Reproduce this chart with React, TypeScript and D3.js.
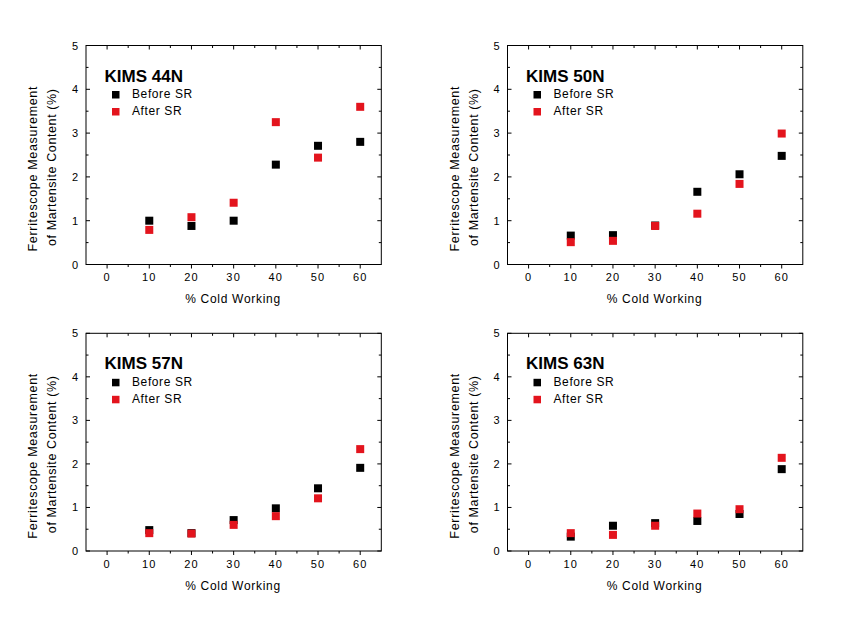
import React from "react";
import * as d3 from "d3";

const coldWorking = [10, 20, 30, 40, 50, 60];
const titles = ["KIMS 44N", "KIMS 50N", "KIMS 57N", "KIMS 63N"];
const before44 = [1.0, 0.88, 1.0, 2.28, 2.71, 2.8];
const after44 = [0.79, 1.08, 1.41, 3.25, 2.44, 3.6];
const before50 = [0.66, 0.67, 0.89, 1.66, 2.06, 2.48];
const after50 = [0.51, 0.54, 0.88, 1.16, 1.84, 2.99];
const before57 = [0.48, 0.41, 0.71, 0.98, 1.44, 1.91];
const after57 = [0.41, 0.4, 0.6, 0.8, 1.21, 2.34];
const before63 = [0.33, 0.58, 0.64, 0.69, 0.85, 1.88];
const after63 = [0.41, 0.37, 0.58, 0.86, 0.96, 2.14];
const xMajorTicks = [0, 10, 20, 30, 40, 50, 60];
const yMajorTicks = [0, 1, 2, 3, 4, 5];
const legendLabels = ["Before SR", "After SR"];
const seriesColors = ["#000000", "#e3141d"];

const beforeSets = [before44, before50, before57, before63];
const afterSets = [after44, after50, after57, after63];

const FONT = "'Liberation Sans', Arial, Helvetica, sans-serif";

const layout = [
  { left: 86, top: 45.5, bottom: 264.5 },
  { left: 507.5, top: 45.5, bottom: 264.5 },
  { left: 86, top: 333.3, bottom: 551 },
  { left: 507.5, top: 333.3, bottom: 551 },
];
const PW = 295.3;

function Panel({ idx }: { idx: number }) {
  const L = layout[idx];
  const x = d3.scaleLinear().domain([-5, 65]).range([L.left, L.left + PW]);
  const y = d3.scaleLinear().domain([0, 5]).range([L.bottom, L.top]);
  const right = L.left + PW;
  const xMinor = d3.range(5, 60, 10);
  const yMinor = d3.range(0.5, 5, 1);
  const sz = 8;
  const series = [beforeSets[idx], afterSets[idx]];
  const midY = (L.top + L.bottom) / 2 + 14;
  return (
    <g>
      <rect x={L.left} y={L.top} width={PW} height={L.bottom - L.top} fill="none" stroke="#000" strokeWidth={1} />
      {xMajorTicks.map((t) => (
        <g key={"xm" + t}>
          <line x1={x(t)} x2={x(t)} y1={L.bottom} y2={L.bottom + 4} stroke="#000" />
          <line x1={x(t)} x2={x(t)} y1={L.top} y2={L.top + 4} stroke="#000" />
          <text x={x(t)} y={L.bottom + 16.5} textAnchor="middle" fontSize={11} fontFamily={FONT} letterSpacing={1.2}>
            {t}
          </text>
        </g>
      ))}
      {xMinor.map((t) => (
        <g key={"xn" + t}>
          <line x1={x(t)} x2={x(t)} y1={L.bottom} y2={L.bottom + 2.5} stroke="#000" />
          <line x1={x(t)} x2={x(t)} y1={L.top} y2={L.top + 2.5} stroke="#000" />
        </g>
      ))}
      {yMajorTicks.map((t) => (
        <g key={"ym" + t}>
          <line x1={L.left} x2={L.left + 4} y1={y(t)} y2={y(t)} stroke="#000" />
          <line x1={right} x2={right - 4} y1={y(t)} y2={y(t)} stroke="#000" />
          <text x={L.left - 8} y={y(t) + 4} textAnchor="end" fontSize={11} fontFamily={FONT}>
            {t}
          </text>
        </g>
      ))}
      {yMinor.map((t) => (
        <g key={"yn" + t}>
          <line x1={L.left} x2={L.left + 2.5} y1={y(t)} y2={y(t)} stroke="#000" />
          <line x1={right} x2={right - 2.5} y1={y(t)} y2={y(t)} stroke="#000" />
        </g>
      ))}
      <text x={(L.left + right) / 2 - 1} y={L.bottom + 38.5} textAnchor="middle" fontSize={12} fontFamily={FONT} textLength={95} lengthAdjust="spacing">
        % Cold Working
      </text>
      <text transform={`translate(${L.left - 49},${midY}) rotate(-90)`} textAnchor="middle" fontSize={12.5} fontFamily={FONT} textLength={165} lengthAdjust="spacing">
        Ferritescope Measurement
      </text>
      <text transform={`translate(${L.left - 30},${midY - 1.5}) rotate(-90)`} textAnchor="middle" fontSize={12.5} fontFamily={FONT} textLength={157} lengthAdjust="spacing">
        of Martensite Content (%)
      </text>
      <text x={L.left + 18.5} y={L.top + 36} fontSize={17} fontWeight="bold" fontFamily={FONT}>
        {titles[idx]}
      </text>
      {legendLabels.map((lab, i) => (
        <g key={lab}>
          <rect x={L.left + 26} y={L.top + 45.5 + i * 17} width={7.5} height={7.5} fill={seriesColors[i]} />
          <text x={L.left + 46} y={L.top + 52.5 + i * 17} fontSize={12} fontFamily={FONT} letterSpacing={0.6}>
            {lab}
          </text>
        </g>
      ))}
      {series.map((vals, si) => (
        <g key={"s" + si}>
          {vals.map((v, j) => (
            <rect
              key={j}
              x={x(coldWorking[j]) - sz / 2}
              y={y(v) - sz / 2}
              width={sz}
              height={sz}
              fill={seriesColors[si]}
            />
          ))}
        </g>
      ))}
    </g>
  );
}

export default function App() {
  return (
    <svg width={846} height={618} style={{ position: "absolute", left: 0, top: 0, background: "#fff" }}>
      <rect width={846} height={618} fill="#fff" />
      {[0, 1, 2, 3].map((i) => (
        <Panel key={i} idx={i} />
      ))}
    </svg>
  );
}
